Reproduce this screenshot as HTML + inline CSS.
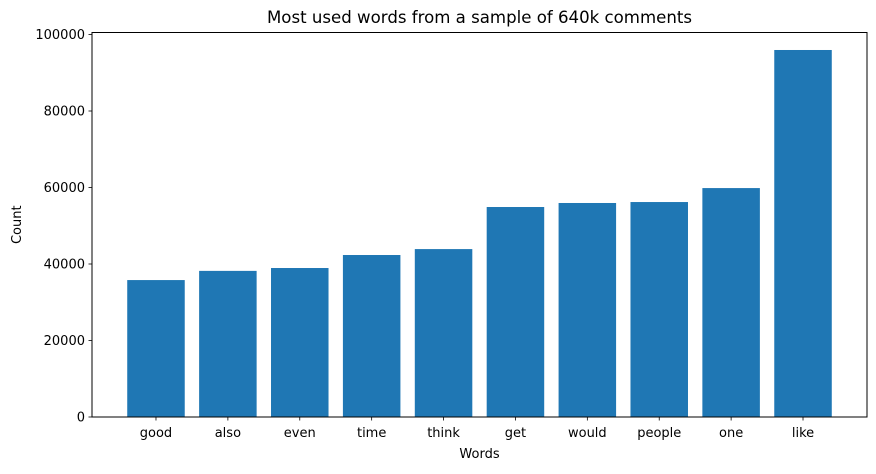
<!DOCTYPE html>
<html><head><meta charset="utf-8"><style>
body{margin:0;background:#fff;font-family:"DejaVu Sans","Liberation Sans",sans-serif;}
svg text{font-family:"DejaVu Sans","Liberation Sans",sans-serif;}
</style></head><body>
<svg id="chart" width="876" height="470" xmlns="http://www.w3.org/2000/svg">
<rect width="876" height="470" fill="#fff"/>
<g id="bars"></g>
<g id="axes"></g>
</svg>
<script>
const categories = ["good","also","even","time","think","get","would","people","one","like"];
const counts = [35800,38200,38950,42350,43900,54900,55950,56200,59850,95950];
const yTicks = [0,20000,40000,60000,80000,100000];
const ns="http://www.w3.org/2000/svg";
const L=92,R=867,T=32.5,B=417;
const x=i=>L+(i+0.4+0.49)*((R-L)/10.78);
const bw=0.8*((R-L)/10.78);
const y=v=>B-(v/100000)*(B-34.5);
function mk(t,a,p){const e=document.createElementNS(ns,t);for(const k in a)e.setAttribute(k,a[k]);p.appendChild(e);return e;}
const bars=document.getElementById('bars'),ax=document.getElementById('axes');
categories.forEach((c,i)=>{
 const r=mk('rect',{x:x(i)-bw/2,y:y(counts[i]),width:bw,height:B-y(counts[i]),fill:'#1f77b4'},bars);
 
 
 mk('line',{x1:x(i),x2:x(i),y1:B,y2:B+3.5,stroke:'#000','stroke-width':0.8},ax);
 const t=mk('text',{x:x(i),y:B+20,'text-anchor':'middle','font-size':13},ax);t.textContent=c;
 
 
});
yTicks.forEach(v=>{
 mk('line',{x1:L-3.5,x2:L,y1:y(v),y2:y(v),stroke:'#000','stroke-width':0.8},ax);
 const t=mk('text',{x:L-7,y:y(v)+4.5,'text-anchor':'end','font-size':13},ax);t.textContent=v;
 
 
});
const f=mk('rect',{x:L,y:T,width:R-L,height:B-T,fill:'none',stroke:'#000','stroke-width':1},ax);


const tt=mk('text',{x:(L+R)/2,y:23,'text-anchor':'middle','font-size':16.6},ax);tt.textContent='Most used words from a sample of 640k comments';


const xl=mk('text',{x:(L+R)/2,y:458,'text-anchor':'middle','font-size':13},ax);xl.textContent='Words';


const yl=mk('text',{x:0,y:0,'text-anchor':'middle','font-size':13,transform:'translate(21,'+((T+B)/2)+') rotate(-90)'},ax);yl.textContent='Count';


</script>
</body></html>
